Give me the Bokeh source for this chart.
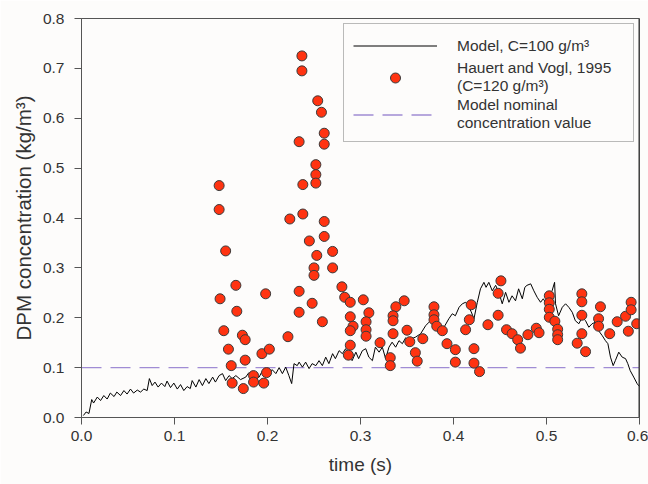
from bokeh.plotting import figure
from bokeh.models import Legend, LegendItem, FixedTicker, PrintfTickFormatter, Span
from bokeh.embed import file_html
from bokeh.resources import INLINE

# ---- data ----
x_ticks = [0.0, 0.1, 0.2, 0.3, 0.4, 0.5, 0.6]
y_ticks = [0.0, 0.1, 0.2, 0.3, 0.4, 0.5, 0.6, 0.7, 0.8]

model_t = [0.002, 0.005, 0.008, 0.011, 0.013, 0.017, 0.0205, 0.024, 0.0276, 0.031, 0.035, 0.038,
           0.042, 0.0456, 0.049, 0.0527, 0.056, 0.060, 0.0635, 0.067, 0.0706, 0.073, 0.076, 0.079,
           0.0824, 0.086, 0.0896, 0.092, 0.0957, 0.0993, 0.103, 0.1065, 0.110, 0.1136, 0.117,
           0.119, 0.123, 0.1265, 0.130, 0.1337, 0.137, 0.141, 0.144, 0.148, 0.1516, 0.155, 0.1587,
           0.162, 0.166, 0.171, 0.1766, 0.180, 0.1838, 0.187, 0.191, 0.194, 0.198, 0.2015, 0.205,
           0.209, 0.2125, 0.216, 0.2196, 0.223, 0.226, 0.2285, 0.232,
           0.234, 0.2375, 0.241, 0.2447, 0.248, 0.252, 0.2554, 0.259, 0.2626, 0.266, 0.270, 0.273,
           0.277, 0.2805, 0.284, 0.2876, 0.291, 0.295, 0.298, 0.302, 0.3056, 0.309, 0.3128, 0.316,
           0.320, 0.3235, 0.327, 0.3306, 0.334, 0.3378, 0.3414, 0.345, 0.3486, 0.352,
           0.355, 0.359, 0.3647, 0.370, 0.3736, 0.377, 0.3826, 0.386, 0.388, 0.391, 0.395, 0.3987,
           0.402, 0.406, 0.4095, 0.413, 0.4166, 0.419, 0.422, 0.4256, 0.429, 0.4327, 0.435, 0.438,
           0.4417, 0.4453, 0.4488, 0.4524, 0.456, 0.4596, 0.463, 0.4667, 0.470, 0.474, 0.4767,
           0.479, 0.483, 0.4864, 0.490, 0.4936, 0.4965, 0.500, 0.5025, 0.506, 0.5087, 0.5097, 0.513,
           0.517, 0.5205, 0.524, 0.5277, 0.531, 0.5348, 0.5384, 0.542, 0.5455, 0.549, 0.5527, 0.556,
           0.560, 0.5634, 0.566, 0.5688, 0.5717, 0.574, 0.5777, 0.5814, 0.585, 0.5874, 0.590, 0.5938,
           0.5974, 0.600]
model_c = [0.004, 0.011, 0.008, 0.036, 0.029, 0.041, 0.034, 0.044, 0.037, 0.049, 0.042, 0.051,
           0.044, 0.054, 0.047, 0.057, 0.049, 0.055, 0.051, 0.057, 0.054, 0.078, 0.064, 0.071,
           0.061, 0.069, 0.062, 0.073, 0.060, 0.069, 0.057, 0.066, 0.054, 0.062, 0.058,
           0.074, 0.061, 0.076, 0.064, 0.078, 0.068, 0.081, 0.071, 0.084, 0.088, 0.074, 0.084,
           0.078, 0.084, 0.076, 0.081, 0.090, 0.084, 0.079, 0.081, 0.092, 0.088, 0.082, 0.096,
           0.088, 0.100, 0.088, 0.101, 0.084, 0.068, 0.108, 0.104,
           0.111, 0.101, 0.111, 0.098, 0.108, 0.104, 0.114, 0.104, 0.121, 0.108, 0.128, 0.118,
           0.134, 0.128, 0.138, 0.121, 0.114, 0.131, 0.118, 0.134, 0.138, 0.121, 0.114, 0.141,
           0.131, 0.141, 0.118, 0.141, 0.151, 0.141, 0.154, 0.148, 0.160, 0.151,
           0.158, 0.161, 0.168, 0.184, 0.191, 0.198, 0.188, 0.178, 0.172, 0.185, 0.198, 0.208,
           0.204, 0.221, 0.228, 0.231, 0.221, 0.212, 0.198, 0.231, 0.258, 0.271, 0.261, 0.271,
           0.254, 0.265, 0.251, 0.228, 0.251, 0.231, 0.244, 0.234, 0.258, 0.238, 0.261,
           0.265, 0.268, 0.254, 0.241, 0.231, 0.238, 0.228, 0.244, 0.254, 0.271, 0.228, 0.204,
           0.221, 0.228, 0.221, 0.211, 0.194, 0.188, 0.201, 0.194, 0.181, 0.188, 0.191, 0.174,
           0.164, 0.154, 0.148, 0.121, 0.104, 0.114, 0.131, 0.121, 0.118, 0.108, 0.094, 0.081,
           0.068, 0.062]

hv_t = [0.148, 0.148, 0.155, 0.166, 0.149, 0.198, 0.167, 0.153, 0.173, 0.176, 0.158, 0.194,
        0.202, 0.176, 0.161, 0.199, 0.185, 0.185, 0.162, 0.174, 0.196, 0.222, 0.234, 0.234,
        0.248, 0.224, 0.238, 0.238, 0.245, 0.252, 0.252, 0.252, 0.253, 0.250, 0.250, 0.259,
        0.237, 0.237, 0.254, 0.258, 0.261, 0.261, 0.234, 0.261, 0.261, 0.270, 0.270,
        0.280, 0.283, 0.289, 0.303, 0.289, 0.309, 0.292, 0.289, 0.306, 0.306, 0.306, 0.289,
        0.287, 0.321, 0.338, 0.347, 0.335, 0.335, 0.335, 0.332, 0.332, 0.350, 0.353, 0.359,
        0.361, 0.367, 0.379, 0.379, 0.379, 0.382, 0.388, 0.393, 0.402, 0.402,
        0.419, 0.417, 0.413, 0.422, 0.422, 0.428, 0.451, 0.448, 0.448, 0.437, 0.457, 0.463,
        0.469, 0.472, 0.480, 0.489, 0.492, 0.503, 0.503, 0.503, 0.503, 0.509, 0.512, 0.512,
        0.512, 0.538, 0.538, 0.538, 0.538, 0.533, 0.542, 0.558, 0.556, 0.556, 0.568, 0.576,
        0.585, 0.591, 0.591, 0.588, 0.597]
hv_c = [0.465, 0.417, 0.334, 0.265, 0.238, 0.248, 0.213, 0.174, 0.165, 0.156, 0.137, 0.128,
        0.137, 0.115, 0.104, 0.090, 0.084, 0.071, 0.069, 0.058, 0.069, 0.162, 0.253, 0.211,
        0.229, 0.398, 0.408, 0.467, 0.354, 0.507, 0.487, 0.470, 0.325, 0.300, 0.285, 0.192,
        0.725, 0.695, 0.635, 0.612, 0.570, 0.548, 0.553, 0.393, 0.363, 0.333, 0.300,
        0.262, 0.241, 0.231, 0.236, 0.202, 0.210, 0.183, 0.174, 0.192, 0.176, 0.163, 0.145,
        0.125, 0.150, 0.222, 0.234, 0.204, 0.194, 0.168, 0.120, 0.104, 0.175, 0.152, 0.130,
        0.113, 0.158, 0.222, 0.206, 0.196, 0.183, 0.174, 0.148, 0.136, 0.111,
        0.226, 0.196, 0.176, 0.138, 0.109, 0.092, 0.274, 0.249, 0.205, 0.186, 0.176, 0.168,
        0.156, 0.139, 0.166, 0.179, 0.170, 0.244, 0.230, 0.217, 0.201, 0.193, 0.177, 0.166,
        0.156, 0.248, 0.232, 0.205, 0.168, 0.149, 0.132, 0.222, 0.198, 0.183, 0.168, 0.192,
        0.203, 0.231, 0.216, 0.173, 0.188]

nominal_t = [0.0, 0.6]
nominal_c = [0.1, 0.1]

FONT = "Liberation Sans"
TXT = "#333333"
BG = "#fdfcfb"

p = figure(width=648, height=484, x_range=(0, 0.6), y_range=(0, 0.8),
           output_backend="svg", toolbar_location=None,
           min_border_left=81, min_border_right=9, min_border_top=18, min_border_bottom=67,
           background_fill_color=BG, border_fill_color=BG)
p.xgrid.visible = False
p.ygrid.visible = False
p.outline_line_color = "#555555"
p.outline_line_width = 1

r_nom = p.line(nominal_t, nominal_c, line_color="#a08cd4", line_width=1.3, line_dash="20 9")
r_line = p.line(model_t, model_c, line_color="black", line_width=1)
r_sc = p.scatter(hv_t, hv_c, size=10, fill_color="#ff3311", line_color="#3a3a3a", line_width=1)

p.add_layout(Span(location=0.6, dimension="height", line_color="#333333", line_width=2))

for ax, ticks in ((p.xaxis, x_ticks), (p.yaxis, y_ticks)):
    ax.ticker = FixedTicker(ticks=ticks)
    ax.formatter = PrintfTickFormatter(format="%.1f")
    ax.minor_tick_line_color = None
    ax.major_tick_in = 0
    ax.major_tick_out = 7
    ax.axis_line_color = "#555555"
    ax.major_tick_line_color = "#555555"
    ax.major_label_text_font = FONT
    ax.major_label_text_font_size = "15.5px"
    ax.major_label_text_color = TXT
    ax.axis_label_text_font = FONT
    ax.axis_label_text_font_size = "19px"
    ax.axis_label_text_font_style = "normal"
    ax.axis_label_text_color = TXT

p.xaxis.axis_label = "time (s)"
p.yaxis.axis_label = "DPM concentration (kg/m³)"
p.yaxis.axis_label_text_font_size = "20.5px"
p.xaxis.major_label_standoff = 6
p.xaxis.axis_label_standoff = 10
p.yaxis.major_label_standoff = 10
p.yaxis.axis_label_standoff = 5

legend = Legend(items=[
    LegendItem(label="Model, C=100 g/m³", renderers=[r_line]),
    LegendItem(label="Hauert and Vogl, 1995\n(C=120 g/m³)", renderers=[r_sc]),
    LegendItem(label="Model nominal\nconcentration value", renderers=[r_nom]),
], location="top_right")
legend.margin = 5
legend.padding = 9
legend.glyph_width = 84
legend.glyph_height = 25
legend.label_standoff = 20
legend.label_width = 167
legend.label_height = 18
legend.spacing = 1
legend.label_text_font = FONT
legend.label_text_font_size = "15.5px"
legend.label_text_color = TXT
legend.border_line_color = "#777777"
legend.border_line_width = 1
legend.background_fill_color = BG
legend.background_fill_alpha = 1.0
p.add_layout(legend)

open("out.html", "w").write(file_html(p, INLINE))
